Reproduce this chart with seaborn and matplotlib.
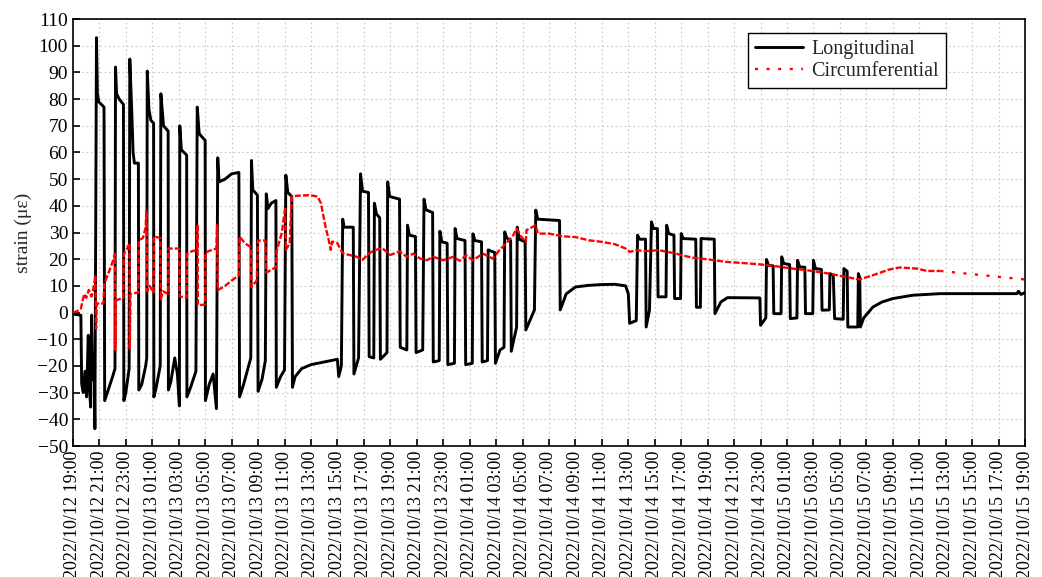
import pandas as pd
import matplotlib
matplotlib.use("Agg")
import matplotlib.pyplot as plt
import matplotlib.dates as mdates
import seaborn as sns

sns.set_theme(style="ticks")
plt.rcParams['font.family'] = ['Liberation Serif', 'DejaVu Serif']

# time origin of the record
start = pd.Timestamp("2022-10-12 19:00")
end = pd.Timestamp("2022-10-15 19:00")

# Longitudinal strain: hours since start, strain (με)
long_hours = [
    0.0, 0.6, 0.66, 0.78, 0.91, 1.03, 1.16, 1.24, 1.34, 1.41, 1.49, 1.61, 1.66,
    1.74, 1.78, 1.85, 1.95, 2.35, 2.4, 2.6, 2.8, 3.0, 3.18, 3.22, 3.3, 3.5, 3.82,
    3.85, 4.0, 4.25, 4.3, 4.45, 4.55, 4.65, 4.95, 4.98, 5.2, 5.5, 5.58, 5.62, 5.75,
    5.9, 6.1, 6.12, 6.3, 6.6, 6.65, 6.85, 7.2, 7.22, 7.4, 7.7, 7.9, 8.05, 8.08,
    8.2, 8.6, 8.62, 8.9, 9.3, 9.4, 9.55, 10.0, 10.02, 10.3, 10.6, 10.85, 10.95,
    11.05, 11.5, 12.0, 12.55, 12.6, 12.9, 13.45, 13.5, 13.6, 13.95, 14.0, 14.3,
    14.55, 14.62, 14.75, 15.0, 15.35, 15.38, 15.7, 16.0, 16.1, 16.25, 16.55, 16.6,
    16.8, 17.3, 18.0, 19.0, 20.0, 20.1, 20.3, 20.4, 20.5, 21.2, 21.25, 21.6, 21.75,
    21.9, 22.35, 22.4, 22.75, 22.8, 22.95, 23.2, 23.25, 23.75, 23.8, 23.95, 24.7,
    24.75, 25.25, 25.3, 25.45, 25.9, 25.95, 26.45, 26.55, 26.7, 27.2, 27.25, 27.7,
    27.75, 27.9, 28.3, 28.35, 28.85, 28.9, 29.05, 29.65, 29.7, 30.2, 30.25, 30.4,
    30.9, 30.95, 31.35, 31.4, 31.9, 31.95, 32.3, 32.6, 32.65, 32.8, 33.1, 33.15,
    33.55, 33.6, 33.75, 34.2, 34.25, 34.9, 35.0, 35.15, 36.8, 36.85, 37.3, 38.0,
    39.0, 40.0, 41.0, 41.8, 42.0, 42.1, 42.6, 42.7, 42.85, 43.3, 43.35, 43.6,
    43.75, 43.9, 44.2, 44.25, 44.85, 44.9, 45.05, 45.45, 45.5, 45.95, 46.0, 46.15,
    47.1, 47.15, 47.45, 47.5, 48.5, 48.55, 49.0, 49.5, 51.95, 52.0, 52.4, 52.45,
    52.6, 52.95, 53.0, 53.55, 53.6, 53.75, 54.2, 54.25, 54.75, 54.8, 54.95, 55.35,
    55.4, 55.95, 56.0, 56.15, 56.6, 56.65, 57.2, 57.25, 57.5, 57.6, 58.25, 58.3,
    58.55, 58.6, 59.35, 59.4, 59.5, 59.55, 59.8, 60.5, 61.2, 62.0, 63.5, 65.6,
    71.4, 71.5, 71.7, 72.0,
]
long_strain = [
    -0.5, -1, -26.6, -30, -22, -31.6, -8.5, -28, -35.4, -1, -25, -19, -43.5,
    60, 103, 82, 79, 77, -33, -30, -27, -24, -21, 92, 82, 80, 78,
    -33, -30, -21, 95, 75, 60, 56, 56, -29, -27, -20, -17, 90.5, 76,
    72, 71, -31.6, -28, -20, 82, 70, 68, -29, -26, -17, -23, -35, 70,
    61, 59, -31.6, -28, -22, 77, 67, 64.5, -33, -27, -23, -36, 58,
    49, 50, 52, 52.5, -31.6, -27, -17, 57, 46, 44, -29.5, -25,
    -18, 44.5, 39, 41, 42, -28, -24, -21.5, 51.5, 45, 43.5, -28,
    -24, -21, -19.5, -18.5, -17.5, -24, -20, 35, 32, 32, -23, -17, 52,
    45.5, 45, -16.5, -17, 41, 37, 35.5, -17.5, -15, 49, 43.5, 42.5,
    -13, -14, 32.75, 29, 28.5, -15, -14, 42.5, 38.5, 37.5, -18.5, -18,
    30.5, 26.5, 26, -19.5, -19, 31.5, 27.75, 27, -19.5, -19, 29.5, 27,
    26.5, -18.5, -18, 23.5, 22.5, -19, -14, -13, 30.25, 28, 27, -14.5,
    -5.5, 32, 27.5, 26.5, -6.5, 1, 38.4, 35, 34.5, 1, 7, 9.6,
    10.2, 10.5, 10.6, 10, 7, -4, -3, 29, 27.5, 27.5, -5.4, 1,
    34, 31.5, 31.5, 5.9, 5.9, 32.75, 29.6, 29, 5.25, 5.25, 29.6, 27.75,
    27.5, 2, 2, 27.75, 27.5, -0.4, 4, 5.6, 5.5, -4.75, -2, 19.9,
    17.75, 17.5, -0.4, -0.4, 20.9, 18.4, 18, -2.25, -2, 19.6, 17.1, 17,
    -0.4, -0.4, 19.6, 16.5, 16.2, 0.9, 1, 14.6, 14, -2.25, -2.5, 16.5,
    15.5, -5.4, -5.4, 14.6, 13, -5.4, -2, 2.1, 4, 5.25, 6.5, 7.1,
    7.1, 8, 6.8, 7.5,
]

# Circumferential strain: hours since start, strain (με)
circ_hours = [
    0.0, 0.3, 0.6, 0.85, 1.0, 1.2, 1.4, 1.55, 1.7, 1.75, 1.8, 2.3, 2.38, 2.7,
    3.0, 3.18, 3.2, 3.25, 3.8, 3.85, 4.1, 4.28, 4.3, 4.35, 4.95, 4.98, 5.3, 5.5,
    5.55, 5.6, 5.62, 5.8, 6.1, 6.12, 6.6, 6.65, 6.8, 7.2, 7.22, 8.05, 8.08, 8.6,
    8.62, 9.0, 9.4, 9.42, 9.45, 10.0, 10.02, 10.5, 10.85, 10.9, 10.95, 11.5, 12.0,
    12.55, 12.6, 13.0, 13.45, 13.5, 13.9, 14.0, 14.55, 14.62, 15.0, 15.35, 15.4,
    15.8, 16.05, 16.1, 16.4, 16.45, 16.55, 17.0, 17.9, 18.5, 18.75, 19.1, 19.35,
    19.5, 19.6, 20.0, 20.4, 20.9, 21.4, 21.9, 22.4, 22.9, 23.4, 24.0, 24.7, 25.25,
    25.75, 26.25, 26.75, 27.25, 28.0, 28.75, 29.25, 29.75, 30.25, 31.0, 31.75,
    32.25, 32.75, 33.3, 33.55, 33.9, 34.25, 34.3, 35.0, 35.15, 36.0, 37.0, 38.0,
    39.0, 40.0, 41.0, 41.8, 42.1, 42.6, 43.3, 44.3, 45.6, 46.8, 48.1, 49.4, 50.6,
    51.9, 53.1, 54.4, 55.9, 57.2, 58.4, 59.5, 60.5, 61.7, 62.5, 63.8, 64.6, 65.6,
    72.0,
]
circ_strain = [
    0, 0.5, 1.5, 7, 5.5, 8.5, 6, 9, 14, -6, 3.4, 3.4, 11, 15,
    19, 22, -14, 4.6, 5.5, 22, 24, 26, -14, 7, 7.5, 27, 28, 32,
    38, 30, 8, 10, 7.5, 28.5, 28, 5, 8, 7, 24, 24, 6, 5.5,
    22, 23, 23.5, 33, 2.75, 3, 22.5, 23.5, 24, 32.75, 8.4, 10, 12,
    14, 28.5, 26, 24.5, 9.6, 12, 27, 27, 15, 16, 17, 23,
    30, 39.5, 23.5, 26, 33, 43.5, 43.8, 44, 43.5, 41, 32.25, 27,
    23.5, 26.6, 26, 22.25, 21.6, 21, 19.75, 22.25, 23.5, 24.1, 21.6, 22.9, 20.9,
    22.1, 20.25, 19.6, 20.9, 19.6, 20.9, 19.4, 21.5, 19.6, 22.1, 20.25,
    23.4, 25.9, 29, 31.5, 28.4, 26.5, 30.9, 32.75, 29.6, 29.6, 28.6, 28.3,
    27.1, 26.5, 25.6, 24, 22.75, 23.4, 23, 23.4, 22.1, 20.6, 19.9, 19, 18.6,
    18.1, 17.4, 16.5, 15.6, 14.6, 13.4, 12.4, 14, 16.1, 16.9, 16.5, 15.6, 15.6,
    12.4,
]

df_long = pd.DataFrame({
    "time": start + pd.to_timedelta(long_hours, unit="h"),
    "strain": long_strain,
})
df_circ = pd.DataFrame({
    "time": start + pd.to_timedelta(circ_hours, unit="h"),
    "strain": circ_strain,
})

fig = plt.figure(figsize=(10.42, 5.77), dpi=100)
ax = fig.add_axes([0.070, 0.227, 0.9137, 0.740])

sns.lineplot(data=df_long, x="time", y="strain", ax=ax, color="black",
             linewidth=2.1, sort=False, estimator=None, label="Longitudinal")
# logged part of the circumferential record: dense dots read almost solid
sns.lineplot(data=df_circ.iloc[:-1], x="time", y="strain", ax=ax, color="red",
             linewidth=1.7, sort=False, estimator=None, zorder=3)
ax.lines[-1].set_dashes((2.6, 0.9))
# gap in the record: straight dotted connection to the last reading
sns.lineplot(data=df_circ.iloc[-2:], x="time", y="strain", ax=ax, color="red",
             linewidth=1.7, sort=False, estimator=None, zorder=3,
             label="Circumferential")
ax.lines[-1].set_dashes((1.3, 3.6))

ax.set_xlim(start, end)
ax.set_ylim(-50, 110)
ax.set_yticks(range(-50, 111, 10))
ax.xaxis.set_major_locator(mdates.HourLocator(byhour=range(1, 24, 2)))
ax.xaxis.set_major_formatter(mdates.DateFormatter("%Y/%m/%d %H:%M"))
plt.setp(ax.get_xticklabels(), rotation=90, ha="center")
ax.yaxis.set_major_formatter(matplotlib.ticker.FuncFormatter(
    lambda v, p: f"{int(v)}".replace("-", "\u2212")))

ax.tick_params(axis="both", direction="in", length=5, width=1.2,
               labelsize=13, colors="black")
ax.tick_params(axis="y", labelsize=14)
ax.set_xlabel("")
ax.set_ylabel("strain (με)", fontsize=14, labelpad=4)

ax.grid(True, linestyle=(0, (1.5, 2.5)), color="#c8c8c8", linewidth=0.8)
for s in ax.spines.values():
    s.set_visible(True)
    s.set_color("black")
    s.set_linewidth(1.2)

leg = ax.legend(loc="upper right", bbox_to_anchor=(0.917, 0.968), fontsize=14.5,
                frameon=True, fancybox=False, edgecolor="black",
                handlelength=2.4, borderpad=0.35, labelspacing=0.15,
                handletextpad=0.4, borderaxespad=0)
leg.get_frame().set_linewidth(1.0)
leg.get_frame().set_alpha(1)

fig.savefig("out.png", dpi=100)
